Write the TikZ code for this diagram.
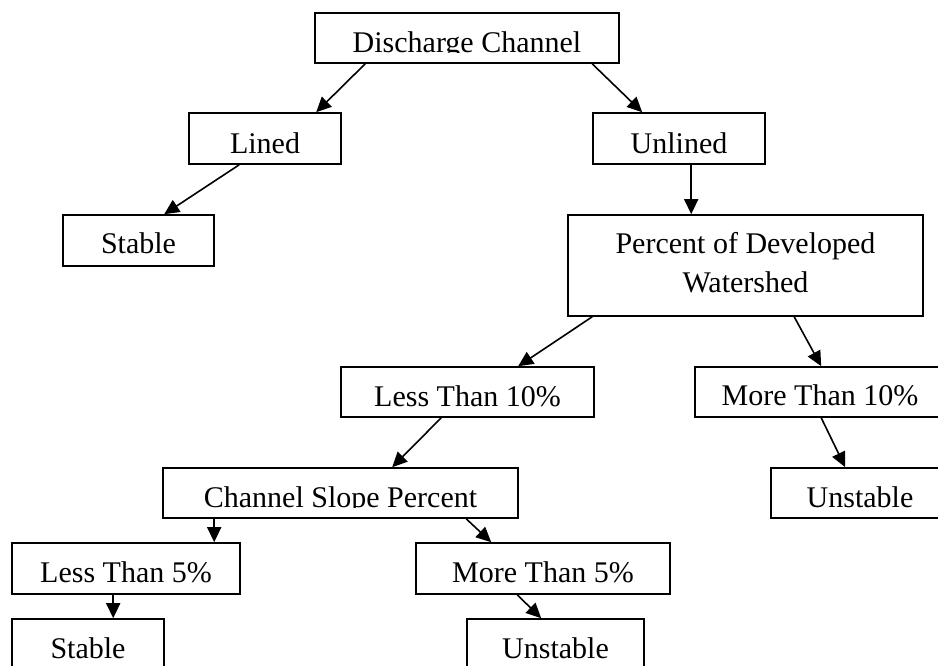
\documentclass[tikz,border=0pt]{standalone}
\usepackage{fontspec}
\setmainfont{Liberation Serif}
\usetikzlibrary{arrows.meta}
\tikzset{
  box/.style={draw, line width=1.6pt, inner sep=0pt},
  lbl/.style={inner sep=0pt, anchor=base, font=\fontsize{30}{39}\selectfont},
  arr/.style={line width=1.6pt, -{Triangle[length=15pt,width=14pt]}}
}
\begin{document}
\begin{tikzpicture}[x=1pt,y=-1pt]
\useasboundingbox (0,0) rectangle (938,665);

% boxes
\node[box, minimum width=304pt, minimum height=50pt] (dc) at (467,38) {};
\node[box, minimum width=152pt, minimum height=51pt] (lined) at (265,138.5) {};
\node[box, minimum width=172pt, minimum height=51pt] (unlined) at (679,138.5) {};
\node[box, minimum width=151pt, minimum height=51pt] (stableA) at (138.5,240.5) {};
\node[box, minimum width=355pt, minimum height=101pt] (pct) at (745.5,265.5) {};
\node[box, minimum width=253pt, minimum height=50pt] (ltten) at (467.5,392) {};
\node[box, minimum width=250pt, minimum height=50pt] (mtten) at (820,392) {};
\node[box, minimum width=178pt, minimum height=50pt] (unstA) at (860,493) {};
\node[box, minimum width=355pt, minimum height=50pt] (csp) at (340.5,493) {};
\node[box, minimum width=228pt, minimum height=51pt] (ltfive) at (126,568.5) {};
\node[box, minimum width=254pt, minimum height=51pt] (mtfive) at (543,568.5) {};
\node[box, minimum width=152pt, minimum height=51pt] (stableB) at (88,644.5) {};
\node[box, minimum width=177pt, minimum height=51pt] (unstB) at (555.5,644.5) {};

% labels
\begin{scope}
  \clip (300,0) rectangle (640,52);
  \node[lbl] (dcT) at (467,52) {Discharge Channel};
\end{scope}
\node[lbl] (linedT) at (265,153) {Lined};
\node[lbl] (unlinedT) at (679,153) {Unlined};
\node[lbl] (stableAT) at (138.5,253) {Stable};
\node[lbl] (pctT) at (745.5,253) {Percent of Developed};
\node[lbl] (pctTb) at (745.5,292) {Watershed};
\node[lbl] (lttenT) at (467.5,406) {Less Than 10\%};
\node[lbl] (mttenT) at (820,405) {More Than 10\%};
\node[lbl] (unstAT) at (860,507) {Unstable};
\begin{scope}
  \clip (150,460) rectangle (530,507);
  \node[lbl] (cspT) at (340.5,507) {Channel Slope Percent};
\end{scope}
\node[lbl] (ltfiveT) at (126,582) {Less Than 5\%};
\node[lbl] (mtfiveT) at (543,582) {More Than 5\%};
\node[lbl] (stableBT) at (88,658) {Stable};
\node[lbl] (unstBT) at (555.5,658) {Unstable};

% connectors
\draw[arr] ([xshift=51pt]dc.south west) -- ([xshift=128pt]lined.north west);
\draw[arr] ([xshift=278pt]dc.south west) -- ([xshift=50pt]unlined.north west);
\draw[arr] ([xshift=51pt]lined.south west) -- ([xshift=102pt]stableA.north west);
\draw[arr] ([xshift=99pt]unlined.south west) -- ([xshift=124pt]pct.north west);
\draw[arr] ([xshift=25pt]pct.south west) -- ([xshift=178pt]ltten.north west);
\draw[arr] ([xshift=227pt]pct.south west) -- ([xshift=127pt]mtten.north west);
\draw[arr] ([xshift=101pt]ltten.south west) -- ([xshift=230pt]csp.north west);
\draw[arr] ([xshift=127pt]mtten.south west) -- ([xshift=75pt]unstA.north west);
\draw[arr] ([xshift=52pt]csp.south west) -- ([xshift=203pt]ltfive.north west);
\draw[arr] ([xshift=304pt]csp.south west) -- ([xshift=76pt]mtfive.north west);
\draw[arr] ([xshift=102pt]ltfive.south west) -- ([xshift=102pt]stableB.north west);
\draw[arr] ([xshift=102pt]mtfive.south west) -- ([xshift=75pt]unstB.north west);
\end{tikzpicture}
\end{document}
